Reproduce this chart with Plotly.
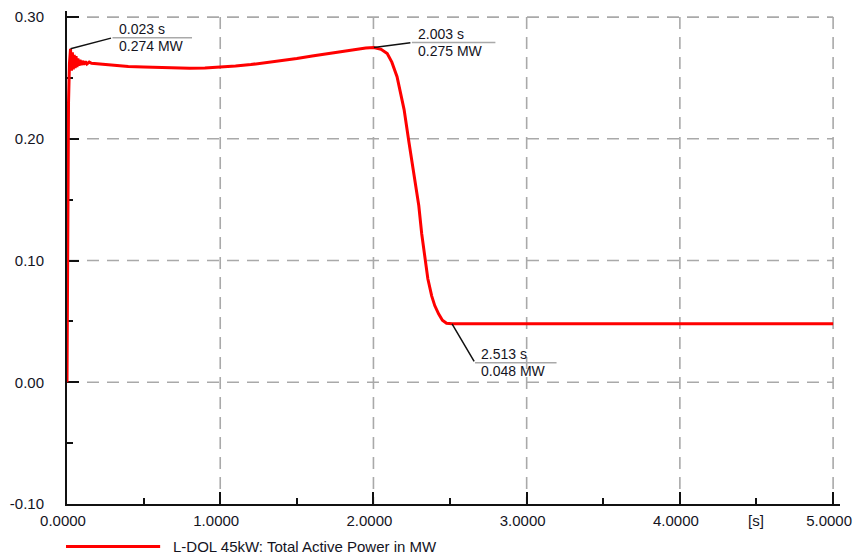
import plotly.graph_objects as go

# Simulation result: total active power of L-DOL 45kW (MW) over time (s)
time_s = [
    0.000, 0.004, 0.010, 0.016, 0.023, 0.029, 0.035, 0.041, 0.047, 0.053,
    0.059, 0.065, 0.071, 0.078, 0.085, 0.092, 0.100, 0.110, 0.120, 0.130,
    0.145, 0.160, 0.200, 0.300, 0.400, 0.500, 0.600, 0.700, 0.800,
    0.900, 1.000, 1.100, 1.200, 1.300, 1.400, 1.500, 1.600, 1.700, 1.800,
    1.900, 1.950, 2.003, 2.050, 2.090, 2.120, 2.154, 2.180, 2.200, 2.232,
    2.270, 2.296, 2.315, 2.335, 2.355, 2.380, 2.400, 2.426, 2.450, 2.477,
    2.513, 3.000, 4.000, 5.000,
]
power_mw = [
    0.000, 0.120, 0.230, 0.262, 0.274, 0.256, 0.271, 0.257, 0.269, 0.258,
    0.268, 0.259, 0.266, 0.260, 0.265, 0.2605, 0.264, 0.261, 0.2635, 0.2615,
    0.263, 0.262, 0.2615, 0.2605, 0.2595, 0.259, 0.2585, 0.258, 0.258,
    0.2582, 0.2588, 0.2598, 0.261, 0.2625, 0.2642, 0.266, 0.268, 0.270, 0.272,
    0.2738, 0.2746, 0.275, 0.2735, 0.270, 0.263, 0.251, 0.237, 0.224, 0.197,
    0.167, 0.145, 0.122, 0.101, 0.085, 0.071, 0.063, 0.056, 0.051, 0.0485,
    0.048, 0.048, 0.048, 0.048,
]

# Cursor readouts placed on the curve
cursor_t = [0.023, 2.003, 2.513]
cursor_v = [0.274, 0.275, 0.048]

x_ticks = [0, 1, 2, 3, 4, 5]
x_tick_text = ["0.0000", "1.0000", "2.0000", "3.0000", "4.0000", "5.0000"]
y_ticks = [-0.10, 0.00, 0.10, 0.20, 0.30]
y_tick_text = ["-0.10", "0.00", "0.10", "0.20", "0.30"]
x_unit = "[s]"
series_name = "L-DOL 45kW: Total Active Power in MW"

FONT = "Liberation Sans, Arial, sans-serif"
TXT = "#14141e"
GRID = "#a9a9a9"
RED = "#ff0000"

fig = go.Figure()
fig.add_trace(go.Scatter(
    x=time_s, y=power_mw, mode="lines",
    line=dict(color=RED, width=3),
    showlegend=False, hoverinfo="skip",
))

shapes = []
# dashed grid bounded by the labelled tick range
x_lo, x_hi = x_ticks[0], x_ticks[-1]
y_lo, y_hi = y_ticks[0], y_ticks[-1]
for xv in x_ticks[1:]:
    shapes.append(dict(type="line", xref="x", yref="y", x0=xv, x1=xv, y0=y_hi, y1=y_lo,
                       line=dict(color=GRID, width=1.6, dash="12px,8px"), layer="below"))
for yv in y_ticks[1:]:
    shapes.append(dict(type="line", xref="x", yref="y", x0=x_lo, x1=x_hi, y0=yv, y1=yv,
                       line=dict(color=GRID, width=1.6, dash="12px,8px"), layer="below"))

# legend entry drawn below the axis
shapes.append(dict(type="line", xref="paper", yref="paper", x0=-0.0013, x1=0.1205,
                   y0=-0.0861, y1=-0.0861, line=dict(color=RED, width=3)))

annotations = [
    dict(x=0.1346, y=-0.0861, xref="paper", yref="paper", text=series_name,
         showarrow=False, xanchor="left", yanchor="middle",
         font=dict(family=FONT, size=15, color=TXT)),
    dict(x=4.5, y=y_lo, xref="x", yref="y", text=x_unit, showarrow=False,
         xanchor="center", yanchor="middle", yshift=-16,
         font=dict(family=FONT, size=15, color=TXT)),
]

# leader offsets (px, right / up) and underline lengths for each readout
leader = [(42, 11, 81), (38, 5, 85), (23, -39, 83)]
for t, v, (dx, dy, ln) in zip(cursor_t, cursor_v, leader):
    annotations.append(dict(x=t, y=v, xref="x", yref="y", text="", showarrow=True,
                            ax=dx, ay=-dy, axref="pixel", ayref="pixel",
                            arrowhead=0, arrowwidth=1.5, arrowcolor="#111111",
                            standoff=0, startstandoff=0))
    annotations.append(dict(x=t, y=v, xref="x", yref="y", text="", showarrow=True,
                            ax=ln, ay=0, xshift=dx, yshift=dy,
                            arrowhead=0, arrowwidth=1.5, arrowcolor=GRID,
                            standoff=0, startstandoff=0))
    annotations.append(dict(x=t, y=v, xref="x", yref="y", text=f"{t:.3f} s",
                            showarrow=False, xanchor="left", yanchor="middle",
                            xshift=dx + 4, yshift=dy + 8.5,
                            font=dict(family=FONT, size=14, color=TXT)))
    annotations.append(dict(x=t, y=v, xref="x", yref="y", text=f"{v:.3f} MW",
                            showarrow=False, xanchor="left", yanchor="middle",
                            xshift=dx + 4, yshift=dy - 8.5,
                            font=dict(family=FONT, size=14, color=TXT)))

fig.update_layout(
    width=860, height=559, autosize=False,
    margin=dict(l=67, r=13, t=8, b=55, pad=0),
    paper_bgcolor="white", plot_bgcolor="white",
    shapes=shapes, annotations=annotations,
    showlegend=False,
    font=dict(family=FONT, size=15, color=TXT),
)
fig.update_xaxes(
    range=[0, 5.045], showgrid=False, zeroline=False,
    showline=True, linecolor="#111111", linewidth=2,
    tickmode="array", tickvals=x_ticks, ticktext=x_tick_text,
    ticks="inside", ticklen=12, tickwidth=1.5, tickcolor="#111111",
    ticklabelshift=-4, ticklabelstandoff=2,
    minor=dict(dtick=0.5, tick0=0, ticks="inside", ticklen=6, tickwidth=1.5,
               tickcolor="#111111", showgrid=False),
    tickfont=dict(family=FONT, size=15, color=TXT), layer="above traces",
)
fig.update_yaxes(
    range=[-0.10, 0.305], showgrid=False, zeroline=False,
    showline=True, linecolor="#111111", linewidth=2,
    tickmode="array", tickvals=y_ticks, ticktext=y_tick_text,
    ticks="inside", ticklen=12, tickwidth=1.5, tickcolor="#111111",
    ticklabelstandoff=18,
    minor=dict(dtick=0.05, tick0=0, ticks="inside", ticklen=6, tickwidth=1.5,
               tickcolor="#111111", showgrid=False),
    tickfont=dict(family=FONT, size=15, color=TXT), layer="below traces",
)

fig.write_html("out.html")
